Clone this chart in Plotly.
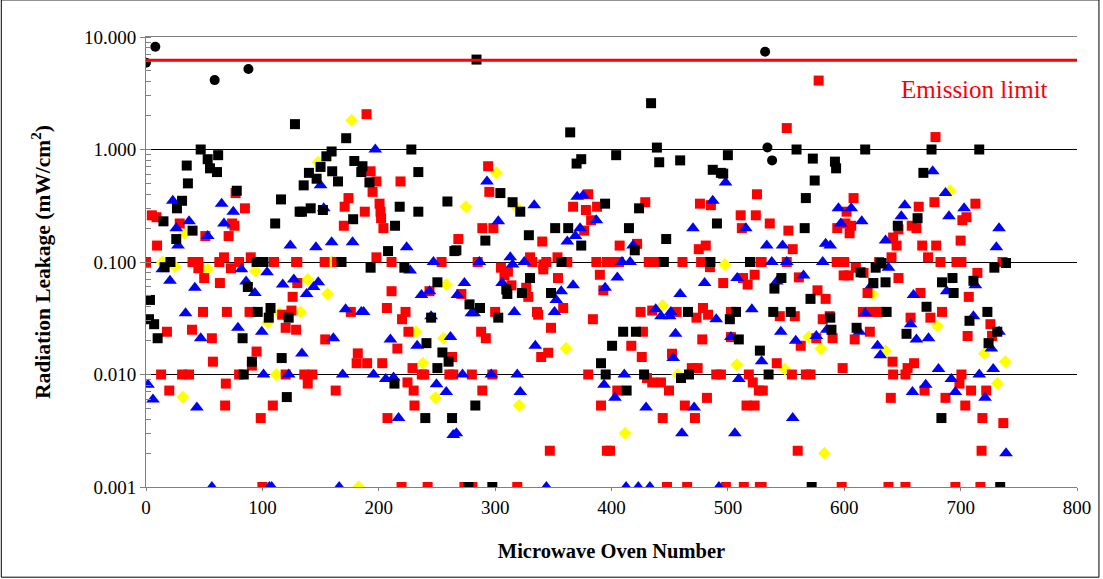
import plotly.graph_objects as go

# ---------------- data ----------------
black_x = [128,47,53,62,55,61,35,36,78,31,26.6,116,132,15,111,40,26,21,95,101,
           16,87.5,3.4,2.6,7,10,96,107,105.5,122.6,83,116.6,91,84,121,
           172,159.5,155,228,150,140,146.6,135.5,179,186,185,192,160,165,234,259,218,234,141.5,134,152,178,214,208,265,168,
           193,222,250.4,245,241,254.7,260,250.4,213.5,240,263,
           284,364.5,374,370,304.5,315,321.6,291.6,266.7,329,351.6,362.8,374,394.5,357,
           330,309.6,310.5,323,348,278,287,302.7,391,395,283,277,297.6,
           434,439,404,441,459,500,487,494,496,423.7,490.6,415,447,420,445,485,519,
           465.7,501.7,507,410,421,400.5,509.4,527.5,466.6,459.7,428,413,
           559,618,573,592,593,574.6,567,566,646,663,632,
           631,627,614,625,635.5,546,540,571,539,554,588,589,636.4,610.6,653.5,535,572,
           675,716,668,739,
           729,684,693,711,694,670.7,723,707.6,731.5,724,683.5,734]
black_y = [1.68,1.0,0.82,0.89,0.68,0.63,0.72,0.50,0.43,0.35,0.30,0.36,0.28,0.23,0.22,0.19,0.16,0.10,0.10,0.10,
           0.09,0.060,0.046,0.031,0.028,0.021,0.036,0.039,0.032,0.032,0.021,0.014,0.013,0.01,0.0063,
           1.26,0.96,0.87,1.0,0.70,0.62,0.55,0.48,0.79,0.71,0.63,0.51,0.64,0.52,0.63,0.345,0.31,0.28,0.30,0.28,0.29,0.24,0.21,0.125,0.125,0.10,
           0.089,0.089,0.066,0.032,0.019,0.0157,0.013,0.0114,0.0083,0.0041,0.0041,
           6.3,1.42,0.82,0.75,0.41,0.34,0.28,0.155,0.127,0.173,0.20,0.20,0.14,0.33,0.10,
           0.072,0.057,0.052,0.053,0.053,0.042,0.039,0.032,0.0126,0.01,0.0053,0.001,0.001,
           2.58,1.04,0.89,0.77,0.80,0.89,0.66,0.62,0.61,0.30,0.22,0.20,0.16,0.127,0.10,0.10,0.10,
           0.036,0.031,0.036,0.024,0.024,0.018,0.0205,0.0163,0.01,0.0093,0.01,0.0072,
           1.0,1.0,0.83,0.78,0.68,0.53,0.37,0.20,0.21,0.245,0.098,
           0.097,0.089,0.081,0.065,0.066,0.072,0.058,0.047,0.036,0.036,0.032,0.025,0.036,0.026,0.023,0.01,0.001,
           1.0,1.0,0.62,0.098,
           0.089,0.066,0.072,0.068,0.053,0.040,0.036,0.030,0.024,0.019,0.0041,0.001]

red_x = [77,5,9,85,29,74,76,51,71,9.5,0,40,45,63,67,80,90,110,129,
         45,73,50,63.5,126,130,49,69.5,89,117,125,18,39.5,56.6,120,129,95,57.5,91,13,31,37,80,120,20,68.6,68,109,98.6,100,
         189.5,193,198,218.7,194.7,174,170.7,188,200.7,201.5,202,204,170,198,130,153.5,164,211,254,
         243.6,211,176,207,223,220,225.5,154,216,182,181,190,203,229,136,143,237,239,260.7,139,163,224.7,230,230.7,207.5,219.6,242,
         294,295,289,298.5,268.4,340.5,376.5,367,378,387.6,380,382.5,285,330,332,344,353.6,362,387,396,
         305,308,311,341.4,341.4,390,393,354,358.5,348,336,337,328.5,326.7,314,300,288,292,339.6,345.6,384,380,391,396,347,289,280,297.6,264,263,271,319,273.6,280.5,
         429,476,485.4,525,511,524,512,407,422,475,481,400,406.5,432,436.6,461,477,528,
         484.6,496,513,517,523,425,435,456,473,478.6,483,502.6,427,417,478,502.6,426,452,469,474,430.5,435,442.5,449.4,490,494,518,521.4,526.6,405,482,463,471.7,444,516,523,398.8,447.7,465,498.3,513.7,527.5,
         578,550.6,536,552,555.7,529,550.6,593.5,600,608,602,601,606,604.6,594,642,645,646.6,658,640.6,630,
         610,616.6,599.5,603.8,646.6,620,561,577,584,544.6,557.5,581.5,587.5,590,616,622.6,628,632,622,609,657,562.6,576,542,555,567,571,598.6,641.5,642,652.6,654.4,660,530,640,560,529,597.8,638,652.6,
         678.4,664,677.5,712.7,701.5,705,662,700,667,679,672,682.7,696.4,700.7,736,
         714.4,707,665.5,684,674,725.6,727,706,700.7,699,669,687,709,722,704,718.7,736.7,718,695.5,717]
red_y = [0.41,0.26,0.25,0.30,0.22,0.22,0.21,0.17,0.17,0.14,0.10,0.10,0.10,0.10,0.11,0.10,0.11,0.10,0.10,
         0.088,0.088,0.072,0.065,0.049,0.065,0.036,0.036,0.036,0.034,0.037,0.024,0.025,0.021,0.026,0.025,0.016,0.013,0.012,0.01,0.01,0.01,0.01,0.01,0.0072,0.0083,0.0053,0.0053,0.0041,0.001,
         2.06,0.64,0.52,0.52,0.42,0.37,0.31,0.28,0.33,0.28,0.245,0.20,0.21,0.11,0.10,0.10,0.10,0.10,0.10,
         0.055,0.055,0.036,0.039,0.036,0.031,0.024,0.0205,0.017,0.0154,0.0126,0.0126,0.0126,0.0114,0.01,0.01,0.01,0.01,0.01,0.0083,0.0072,0.0085,0.0072,0.0053,0.0041,0.001,0.001,
         0.71,0.42,0.20,0.20,0.16,0.152,0.19,0.31,0.29,0.31,0.40,0.235,0.10,0.11,0.10,0.10,0.11,0.10,0.10,0.10,
         0.089,0.076,0.082,0.095,0.086,0.077,0.056,0.072,0.039,0.026,0.036,0.034,0.049,0.059,0.062,0.036,0.024,0.021,0.0143,0.0156,0.031,0.01,0.0053,0.0021,0.0021,0.0072,0.01,0.01,0.01,0.0143,0.052,0.001,0.001,0.001,
         0.34,0.33,0.32,0.40,0.26,0.26,0.20,0.14,0.145,0.13,0.14,0.1,0.1,0.1,0.1,0.1,0.1,0.1,
         0.09,0.065,0.072,0.063,0.077,0.036,0.037,0.036,0.032,0.039,0.034,0.036,0.024,0.018,0.0205,0.0215,0.0143,0.0153,0.0114,0.0114,0.0093,0.0085,0.0085,0.0072,0.01,0.01,0.01,0.0085,0.0072,0.0072,0.0062,0.0053,0.0041,0.0041,0.0053,0.0053,0.0021,0.001,0.001,0.001,0.001,0.001,
         4.1,1.55,0.22,0.19,0.13,0.1,0.1,0.1,0.1,0.37,0.28,0.22,0.21,0.18,0.2,0.165,0.14,0.195,0.21,0.11,0.1,
         0.089,0.08,0.076,0.076,0.072,0.053,0.073,0.056,0.047,0.033,0.033,0.031,0.033,0.021,0.036,0.036,0.036,0.036,0.024,0.0205,0.032,0.018,0.021,0.0126,0.01,0.01,0.01,0.0114,0.013,0.01,0.01,0.0114,0.0126,0.0072,0.0062,0.0021,0.001,0.001,0.001,0.001,
         1.29,0.31,0.34,0.33,0.235,0.25,0.20,0.155,0.14,0.14,0.11,0.1,0.1,0.1,0.1,
         0.08,0.049,0.053,0.036,0.032,0.028,0.022,0.022,0.01,0.0083,0.0072,0.0062,0.0072,0.0072,0.0053,0.0041,0.0037,0.0021,0.001,0.001]

blue_x = [23,65,75,37,67,26,53,27.5,124,
          14,20.6,42,82,86,93.5,104,117.5,127,34,79,47,99.5,101,122.6,1.7,6,43.7,56.6,106,108,
          197,150,152.7,146,159.5,177.5,224,247,
          227,236.7,243.6,144,148,138,171.5,185,187,245,161,210,233,261.6,134,169,195.5,206,212.7,249.6,258,217,264,166,
          293,302.7,333.6,362,369,373,370.5,375.6,387,286.5,313,325,
          315,273.6,267.6,306,279.6,282,316.5,351,356.8,352.5,367,394.5,334.5,272,296.7,319,321.6,393.6,266.7,344,
          498,487,515.4,470,418.5,409,416,
          405,480,508,459,438,442.6,450,451,490,520.6,455,502.6,529,453,411,509.4,403,429.7,471,460.5,506,412.5,423,433,492.3,
          533.4,547,537.7,550.6,581.5,595,606,615,597,584,588,635.5,649,652,
          638,623.5,542,565,659.5,618,585,613,657,662,545.5,558.3,576,628.6,631,658.6,555.7,
          676,687,703,690,733,730.7,
          712.7,688,711,733,672.4,726.4,681,716,728,692,670,695.5,721,739]
blue_y = [0.35,0.33,0.28,0.23,0.22,0.20,0.17,0.14,0.14,
          0.086,0.068,0.059,0.086,0.067,0.053,0.081,0.063,0.070,0.035,0.026,0.021,0.024,0.010,0.01,0.0081,0.006,0.0051,0.001,0.001,0.001,
          1.0,0.48,0.30,0.135,0.15,0.15,0.135,0.1,
          0.084,0.051,0.055,0.06,0.066,0.052,0.038,0.036,0.036,0.033,0.021,0.0205,0.018,0.0215,0.0154,0.01,0.01,0.0091,0.0094,0.0082,0.0070,0.0041,0.0029,0.001,
          0.52,0.23,0.32,0.152,0.17,0.20,0.38,0.39,0.235,0.1,0.11,0.1,
          0.095,0.065,0.051,0.065,0.035,0.035,0.036,0.036,0.055,0.046,0.062,0.059,0.018,0.01,0.01,0.01,0.007,0.0081,0.003,0.001,
          0.51,0.35,0.20,0.20,0.14,0.1,0.1,
          0.073,0.065,0.072,0.052,0.038,0.033,0.033,0.036,0.031,0.038,0.023,0.0215,0.0131,0.014,0.01,0.0091,0.0062,0.0051,0.0051,0.003,0.003,0.001,0.001,0.001,0.001,
          0.14,0.14,0.1,0.1,0.1,0.30,0.30,0.23,0.22,0.145,0.14,0.155,0.255,0.32,
          0.089,0.062,0.067,0.076,0.051,0.035,0.025,0.024,0.028,0.0205,0.024,0.02,0.022,0.018,0.0148,0.007,0.0041,
          0.64,0.41,0.30,0.255,0.20,0.135,
          0.062,0.055,0.033,0.024,0.021,0.017,0.0112,0.01,0.0112,0.0091,0.0081,0.007,0.0062,0.002]

yellow_x = [33,14,25,53,94,104.6,112,31.7,115,176.7,148,159.5,
            258,139,156,133,232,255.6,238,248.7,182.7,301,318,275,361,320.7,
            497.4,444,507.7,457,411.7,624.4,569.5,579.8,635.5,549,583,691,680,720.4,738.4,731.6]
yellow_y = [0.18,0.10,0.091,0.086,0.083,0.029,0.01,0.0063,0.035,1.82,0.77,0.10,
            0.063,0.070,0.052,0.036,0.024,0.021,0.0126,0.0062,0.001,0.62,0.31,0.31,0.017,0.0053,
            0.095,0.041,0.0122,0.01,0.003,0.052,0.0215,0.017,0.0163,0.0112,0.002,0.43,0.027,0.0154,0.013,0.0083]

circle_x = [0, 8, 59, 88, 532, 534, 538]
circle_y = [5.9, 8.2, 4.14, 5.19, 7.4, 1.04, 0.80]

emission_limit = 6.2
y_tickvals = [0.001, 0.01, 0.1, 1, 10]
y_ticktext = ["0.001", "0.010", "0.100", "1.000", "10.000"]
x_tickvals = [0, 100, 200, 300, 400, 500, 600, 700, 800]

SERIF = "Liberation Serif, Times New Roman, serif"

fig = go.Figure()
fig.add_trace(go.Scatter(x=yellow_x, y=yellow_y, mode="markers",
                         marker=dict(symbol="diamond", size=10, color="#FFFF00", line=dict(width=0))))
fig.add_trace(go.Scatter(x=red_x, y=red_y, mode="markers",
                         marker=dict(symbol="square", size=10, color="#FF0000", line=dict(width=0))))
fig.add_trace(go.Scatter(x=blue_x, y=blue_y, mode="markers",
                         marker=dict(symbol="triangle-up", size=12, color="#0000FF", line=dict(width=0))))
fig.add_trace(go.Scatter(x=black_x, y=black_y, mode="markers",
                         marker=dict(symbol="square", size=10, color="#000000", line=dict(width=0))))
fig.add_trace(go.Scatter(x=circle_x, y=circle_y, mode="markers",
                         marker=dict(symbol="circle", size=10, color="#000000", line=dict(width=0))))

fig.add_shape(type="line", xref="paper", x0=0, x1=1, yref="y",
              y0=emission_limit, y1=emission_limit,
              line=dict(color="#FF0000", width=3))

fig.add_annotation(text="Emission limit", xref="paper", yref="paper",
                   x=0.89, y=0.884, xanchor="center", yanchor="middle", showarrow=False,
                   font=dict(family=SERIF, size=25, color="#FF0000"))

# outer chart frame
fig.add_shape(type="rect", xref="paper", yref="paper",
              x0=-145/933, x1=(1101-146)/933, y0=(487-577)/449, y1=(487-1)/449,
              line=dict(color="#000000", width=1), fillcolor="rgba(0,0,0,0)", layer="below")

fig.update_layout(
    width=1103, height=579,
    margin=dict(l=146, r=24, t=37, b=92),
    paper_bgcolor="white", plot_bgcolor="white",
    showlegend=False,
    font=dict(family=SERIF, color="#000000"),
    xaxis=dict(range=[0, 800], tickvals=x_tickvals, showgrid=False, zeroline=False,
               showline=True, linecolor="#808080", linewidth=1, mirror=True,
               ticks="outside", ticklen=3, tickcolor="#808080",
               tickfont=dict(family=SERIF, size=19),
               title=dict(text="<b>Microwave Oven Number</b>", font=dict(family=SERIF, size=20.5),
                          standoff=26)),
    yaxis=dict(type="log", range=[-3, 1], tickvals=y_tickvals, ticktext=y_ticktext,
               showgrid=True, gridcolor="#000000", gridwidth=1, zeroline=False,
               showline=True, linecolor="#808080", linewidth=1,
               ticks="outside", ticklen=5, tickcolor="#808080",
               minor=dict(ticks="inside", ticklen=5, tickcolor="#808080", dtick="D1", showgrid=False),
               tickfont=dict(family=SERIF, size=19),
               title=dict(text="<b>Radiation Leakage (mW/cm<sup>2</sup>)</b>", font=dict(family=SERIF, size=21.5),
                          standoff=27)),
)

fig.write_html("out.html", config={"displayModeBar": False},
               post_script="document.body.style.margin='0px';")
